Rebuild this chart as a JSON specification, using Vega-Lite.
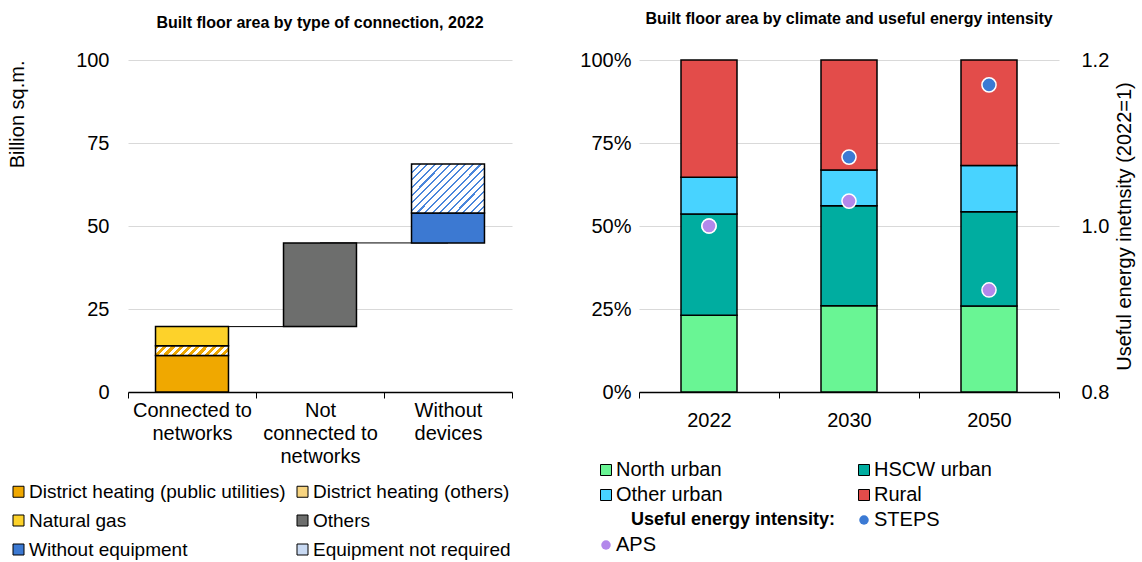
{
  "$schema": "https://vega.github.io/schema/vega-lite/v6.json",
  "background": "white",
  "autosize": {"type": "pad"},
  "padding": {"left": 7, "top": 11, "right": 2, "bottom": 0},
  "bounds": "flush",
  "spacing": 127,
  "config": {
    "font": "Liberation Sans",
    "view": {"stroke": null},
    "axis": {"labelFont": "Liberation Sans", "labelFontSize": 20, "labelColor": "#000", "titleFont": "Liberation Sans", "titleFontSize": 20, "titleFontWeight": "normal", "titleColor": "#000"},
    "legend": {"labelFont": "Liberation Sans", "labelColor": "#000", "padding": 0, "symbolOpacity": 1}
  },
  "resolve": {"scale": {"color": "independent"}, "legend": {"color": "independent"}},
  "hconcat": [
    {
      "width": 384,
      "height": 332,
      "title": {"text": "Built floor area by type of connection, 2022", "fontSize": 16, "fontWeight": "bold", "frame": "group", "anchor": "middle", "offset": 19, "color": "#000"},
      "layer": [
        {
          "data": {"values": [
            {"from": "Connected to networks", "to": "Not connected to networks", "level": 19.7},
            {"from": "Not connected to networks", "to": "Without devices", "level": 44.9}
          ]},
          "mark": {"type": "rule", "color": "#000", "strokeWidth": 1},
          "encoding": {
            "x": {"field": "from", "type": "nominal"},
            "x2": {"field": "to"},
            "y": {"field": "level", "type": "quantitative"}
          }
        },
        {
          "data": {"values": [
            {"category": "Connected to networks", "segment": "District heating (public utilities)", "start": 0, "end": 11.0},
            {"category": "Connected to networks", "segment": "District heating (others)", "start": 11.0, "end": 13.9},
            {"category": "Connected to networks", "segment": "Natural gas", "start": 13.9, "end": 19.7},
            {"category": "Not connected to networks", "segment": "Others", "start": 19.7, "end": 44.9},
            {"category": "Without devices", "segment": "Without equipment", "start": 44.9, "end": 53.9},
            {"category": "Without devices", "segment": "Equipment not required", "start": 53.9, "end": 68.7}
          ]},
          "mark": {"type": "bar", "stroke": "#000", "strokeWidth": 1.5, "width": {"band": 0.57}},
          "encoding": {
            "x": {
              "field": "category", "type": "nominal",
              "scale": {"domain": ["Connected to networks", "Not connected to networks", "Without devices"], "paddingInner": 0, "paddingOuter": 0},
              "axis": {
                "title": null, "labelAngle": 0, "labelAlign": "center", "tickBand": "extent", "tickSize": 6, "tickColor": "#000", "domainColor": "#000", "domainWidth": 1.5, "labelPadding": 2, "labelLineHeight": 23, "labelBaseline": "top",
                "labelExpr": "datum.value === 'Connected to networks' ? ['Connected to', 'networks'] : datum.value === 'Not connected to networks' ? ['Not', 'connected to', 'networks'] : datum.value === 'Without devices' ? ['Without', 'devices'] : ''"
              }
            },
            "y": {
              "field": "start", "type": "quantitative",
              "scale": {"domain": [0, 100]},
              "axis": {"title": "Billion sq.m.", "titleAnchor": "end", "titlePadding": 48, "values": [0, 25, 50, 75, 100], "grid": true, "gridColor": "#d9d9d9", "domain": false, "ticks": false, "tickSize": 0, "labelPadding": 19}
            },
            "y2": {"field": "end"},
            "fill": {
              "condition": [
                {"test": "datum.segment === 'District heating (others)'", "value": {"gradient": "linear", "x1": 0, "y1": 0, "x2": 1.111, "y2": 0.144, "stops": [
                    {"offset": 0, "color": "#F0A800"}, {"offset": 0.05, "color": "#F0A800"}, {"offset": 0.05, "color": "#ffffff"}, {"offset": 0.1, "color": "#ffffff"},
                    {"offset": 0.1, "color": "#F0A800"}, {"offset": 0.15, "color": "#F0A800"}, {"offset": 0.15, "color": "#ffffff"}, {"offset": 0.2, "color": "#ffffff"},
                    {"offset": 0.2, "color": "#F0A800"}, {"offset": 0.25, "color": "#F0A800"}, {"offset": 0.25, "color": "#ffffff"}, {"offset": 0.3, "color": "#ffffff"},
                    {"offset": 0.3, "color": "#F0A800"}, {"offset": 0.35, "color": "#F0A800"}, {"offset": 0.35, "color": "#ffffff"}, {"offset": 0.4, "color": "#ffffff"},
                    {"offset": 0.4, "color": "#F0A800"}, {"offset": 0.45, "color": "#F0A800"}, {"offset": 0.45, "color": "#ffffff"}, {"offset": 0.5, "color": "#ffffff"},
                    {"offset": 0.5, "color": "#F0A800"}, {"offset": 0.55, "color": "#F0A800"}, {"offset": 0.55, "color": "#ffffff"}, {"offset": 0.6, "color": "#ffffff"},
                    {"offset": 0.6, "color": "#F0A800"}, {"offset": 0.65, "color": "#F0A800"}, {"offset": 0.65, "color": "#ffffff"}, {"offset": 0.7, "color": "#ffffff"},
                    {"offset": 0.7, "color": "#F0A800"}, {"offset": 0.75, "color": "#F0A800"}, {"offset": 0.75, "color": "#ffffff"}, {"offset": 0.8, "color": "#ffffff"},
                    {"offset": 0.8, "color": "#F0A800"}, {"offset": 0.85, "color": "#F0A800"}, {"offset": 0.85, "color": "#ffffff"}, {"offset": 0.9, "color": "#ffffff"},
                    {"offset": 0.9, "color": "#F0A800"}, {"offset": 0.95, "color": "#F0A800"}, {"offset": 0.95, "color": "#ffffff"}, {"offset": 1, "color": "#ffffff"}
                  ]}},
                {"test": "datum.segment === 'Equipment not required'", "value": {"gradient": "linear", "x1": 0, "y1": 0, "x2": 1.152, "y2": 0.772, "stops": [
                    {"offset": 0, "color": "#4a86db"}, {"offset": 0.017, "color": "#4a86db"}, {"offset": 0.017, "color": "#ffffff"}, {"offset": 0.0625, "color": "#ffffff"},
                    {"offset": 0.0625, "color": "#4a86db"}, {"offset": 0.0795, "color": "#4a86db"}, {"offset": 0.0795, "color": "#ffffff"}, {"offset": 0.125, "color": "#ffffff"},
                    {"offset": 0.125, "color": "#4a86db"}, {"offset": 0.142, "color": "#4a86db"}, {"offset": 0.142, "color": "#ffffff"}, {"offset": 0.1875, "color": "#ffffff"},
                    {"offset": 0.1875, "color": "#4a86db"}, {"offset": 0.2045, "color": "#4a86db"}, {"offset": 0.2045, "color": "#ffffff"}, {"offset": 0.25, "color": "#ffffff"},
                    {"offset": 0.25, "color": "#4a86db"}, {"offset": 0.267, "color": "#4a86db"}, {"offset": 0.267, "color": "#ffffff"}, {"offset": 0.3125, "color": "#ffffff"},
                    {"offset": 0.3125, "color": "#4a86db"}, {"offset": 0.3295, "color": "#4a86db"}, {"offset": 0.3295, "color": "#ffffff"}, {"offset": 0.375, "color": "#ffffff"},
                    {"offset": 0.375, "color": "#4a86db"}, {"offset": 0.392, "color": "#4a86db"}, {"offset": 0.392, "color": "#ffffff"}, {"offset": 0.4375, "color": "#ffffff"},
                    {"offset": 0.4375, "color": "#4a86db"}, {"offset": 0.4545, "color": "#4a86db"}, {"offset": 0.4545, "color": "#ffffff"}, {"offset": 0.5, "color": "#ffffff"},
                    {"offset": 0.5, "color": "#4a86db"}, {"offset": 0.517, "color": "#4a86db"}, {"offset": 0.517, "color": "#ffffff"}, {"offset": 0.5625, "color": "#ffffff"},
                    {"offset": 0.5625, "color": "#4a86db"}, {"offset": 0.5795, "color": "#4a86db"}, {"offset": 0.5795, "color": "#ffffff"}, {"offset": 0.625, "color": "#ffffff"},
                    {"offset": 0.625, "color": "#4a86db"}, {"offset": 0.642, "color": "#4a86db"}, {"offset": 0.642, "color": "#ffffff"}, {"offset": 0.6875, "color": "#ffffff"},
                    {"offset": 0.6875, "color": "#4a86db"}, {"offset": 0.7045, "color": "#4a86db"}, {"offset": 0.7045, "color": "#ffffff"}, {"offset": 0.75, "color": "#ffffff"},
                    {"offset": 0.75, "color": "#4a86db"}, {"offset": 0.767, "color": "#4a86db"}, {"offset": 0.767, "color": "#ffffff"}, {"offset": 0.8125, "color": "#ffffff"},
                    {"offset": 0.8125, "color": "#4a86db"}, {"offset": 0.8295, "color": "#4a86db"}, {"offset": 0.8295, "color": "#ffffff"}, {"offset": 0.875, "color": "#ffffff"},
                    {"offset": 0.875, "color": "#4a86db"}, {"offset": 0.892, "color": "#4a86db"}, {"offset": 0.892, "color": "#ffffff"}, {"offset": 0.9375, "color": "#ffffff"},
                    {"offset": 0.9375, "color": "#4a86db"}, {"offset": 0.9545, "color": "#4a86db"}, {"offset": 0.9545, "color": "#ffffff"}, {"offset": 1, "color": "#ffffff"}
                  ]}}
              ],
              "field": "segment", "type": "nominal",
              "scale": {
                "domain": ["District heating (public utilities)", "District heating (others)", "Natural gas", "Others", "Without equipment", "Equipment not required"],
                "range": ["#F0A800", "#F7D480", "#FDD22A", "#6D6E6D", "#3C79D2", "#C9DAF3"]
              },
              "legend": {
                "title": null, "orient": "none", "legendX": -119, "legendY": 422, "columns": 2, "direction": "horizontal",
                "symbolType": "square", "symbolSize": 121, "symbolStrokeColor": "#000", "symbolStrokeWidth": 1,
                "labelFontSize": 19, "labelOffset": 1, "rowPadding": 9, "columnPadding": 7, "labelLimit": 400,
                "encode": {
                  "symbols": {"update": {
                    "fill": {"signal": "datum.value === 'District heating (others)' ? {gradient: 'linear', x1: 0, y1: 0, x2: 1, y2: 1, stops: [{offset: 0, color: '#ffffff'}, {offset: 0.3, color: '#ffffff'}, {offset: 0.3, color: '#F0A800'}, {offset: 0.6, color: '#F0A800'}, {offset: 0.6, color: '#ffffff'}, {offset: 0.8, color: '#ffffff'}, {offset: 0.8, color: '#F0A800'}, {offset: 1, color: '#F0A800'}]} : datum.value === 'Equipment not required' ? {gradient: 'linear', x1: 0, y1: 0, x2: 1, y2: 1, stops: [{offset: 0, color: '#ffffff'}, {offset: 0.3, color: '#ffffff'}, {offset: 0.3, color: '#4a86db'}, {offset: 0.4, color: '#4a86db'}, {offset: 0.4, color: '#ffffff'}, {offset: 0.65, color: '#ffffff'}, {offset: 0.65, color: '#4a86db'}, {offset: 0.75, color: '#4a86db'}, {offset: 0.75, color: '#ffffff'}, {offset: 1, color: '#ffffff'}]} : datum.value === 'District heating (public utilities)' ? '#F0A800' : datum.value === 'Natural gas' ? '#FDD22A' : datum.value === 'Others' ? '#6D6E6D' : '#3C79D2'"},
                    "stroke": {"value": "#000"},
                    "strokeWidth": {"value": 1},
                    "opacity": {"value": 1}
                  }}
                }
              }
            }
          }
        }
      ]
    },
    {
      "width": 420,
      "height": 332,
      "title": {"text": "Built floor area by climate and useful energy intensity", "fontSize": 16, "fontWeight": "bold", "frame": "group", "anchor": "middle", "offset": 23, "color": "#000"},
      "layer": [
        {
          "data": {"values": [
            {"year": "2022", "region": "North urban", "share": 23.1},
            {"year": "2022", "region": "HSCW urban", "share": 30.5},
            {"year": "2022", "region": "Other urban", "share": 11.1},
            {"year": "2022", "region": "Rural", "share": 35.3},
            {"year": "2030", "region": "North urban", "share": 26.0},
            {"year": "2030", "region": "HSCW urban", "share": 30.1},
            {"year": "2030", "region": "Other urban", "share": 10.8},
            {"year": "2030", "region": "Rural", "share": 33.1},
            {"year": "2050", "region": "North urban", "share": 25.9},
            {"year": "2050", "region": "HSCW urban", "share": 28.4},
            {"year": "2050", "region": "Other urban", "share": 13.9},
            {"year": "2050", "region": "Rural", "share": 31.8}
          ]},
          "transform": [{"calculate": "indexof(['North urban', 'HSCW urban', 'Other urban', 'Rural'], datum.region)", "as": "ord"}],
          "mark": {"type": "bar", "stroke": "#000", "strokeWidth": 1.5, "width": {"band": 0.4}},
          "encoding": {
            "x": {
              "field": "year", "type": "nominal",
              "scale": {"domain": ["2022", "2030", "2050"], "paddingInner": 0, "paddingOuter": 0},
              "axis": {"title": null, "labelAngle": 0, "labelAlign": "center", "tickBand": "extent", "tickSize": 6, "tickColor": "#000", "domainColor": "#000", "domainWidth": 1.5, "labelPadding": 12, "labelBaseline": "top"}
            },
            "y": {
              "field": "share", "type": "quantitative", "stack": "normalize",
              "axis": {"title": null, "format": ".0%", "values": [0, 0.25, 0.5, 0.75, 1], "grid": true, "gridColor": "#d9d9d9", "domain": false, "ticks": false, "tickSize": 0, "labelPadding": 8}
            },
            "order": {"field": "ord", "type": "quantitative"},
            "color": {
              "field": "region", "type": "nominal",
              "scale": {
                "domain": ["North urban", "HSCW urban", "Other urban", "Rural", "Useful energy intensity:", "STEPS", "APS"],
                "range": ["#69F594", "#00ADA0", "#48D3FF", "#E34C4A", "#ffffff", "#3B7AD4", "#B388EB"]
              },
              "legend": {
                "title": null, "orient": "none", "legendX": -43, "legendY": 400, "columns": 2, "direction": "horizontal",
                "symbolType": "square", "symbolSize": 121, "symbolStrokeColor": "#000", "symbolStrokeWidth": 1,
                "labelFontSize": 20, "labelOffset": 0, "rowPadding": 5, "columnPadding": 18, "labelLimit": 400,
                "encode": {
                  "symbols": {"update": {
                    "shape": {"signal": "datum.value === 'STEPS' || datum.value === 'APS' ? 'circle' : 'square'"},
                    "size": {"signal": "datum.value === 'Useful energy intensity:' ? 0 : (datum.value === 'STEPS' || datum.value === 'APS') ? 90 : 121"},
                    "stroke": {"signal": "datum.value === 'STEPS' || datum.value === 'APS' ? 'transparent' : '#000'"},
                    "strokeWidth": {"value": 1},
                    "opacity": {"value": 1}
                  }},
                  "labels": {"update": {
                    "fontWeight": {"signal": "datum.value === 'Useful energy intensity:' ? 'bold' : 'normal'"},
                    "fontSize": {"signal": "datum.value === 'Useful energy intensity:' ? 18 : 20"},
                    "dx": {"signal": "datum.value === 'Useful energy intensity:' ? 15 : 0"}
                  }}
                }
              }
            }
          }
        },
        {
          "data": {"values": [
            {"year": "2022", "scenario": "STEPS", "value": 1.0},
            {"year": "2022", "scenario": "APS", "value": 1.0},
            {"year": "2030", "scenario": "STEPS", "value": 1.083},
            {"year": "2030", "scenario": "APS", "value": 1.03},
            {"year": "2050", "scenario": "STEPS", "value": 1.17},
            {"year": "2050", "scenario": "APS", "value": 0.923}
          ]},
          "mark": {"type": "point", "filled": true, "size": 200, "stroke": "#ffffff", "strokeWidth": 1.5, "opacity": 1},
          "encoding": {
            "x": {"field": "year", "type": "nominal"},
            "y": {
              "field": "value", "type": "quantitative",
              "scale": {"domain": [0.8, 1.2]},
              "axis": {"orient": "right", "title": "Useful energy inetnsity (2022=1)", "titleAngle": 270, "titleBaseline": "top", "titlePadding": 6, "values": [0.8, 1.0, 1.2], "format": ".1f", "grid": false, "domain": false, "ticks": false, "tickSize": 0, "labelPadding": 22}
            },
            "color": {"field": "scenario", "type": "nominal"}
          }
        }
      ],
      "resolve": {"scale": {"y": "independent"}}
    }
  ]
}
